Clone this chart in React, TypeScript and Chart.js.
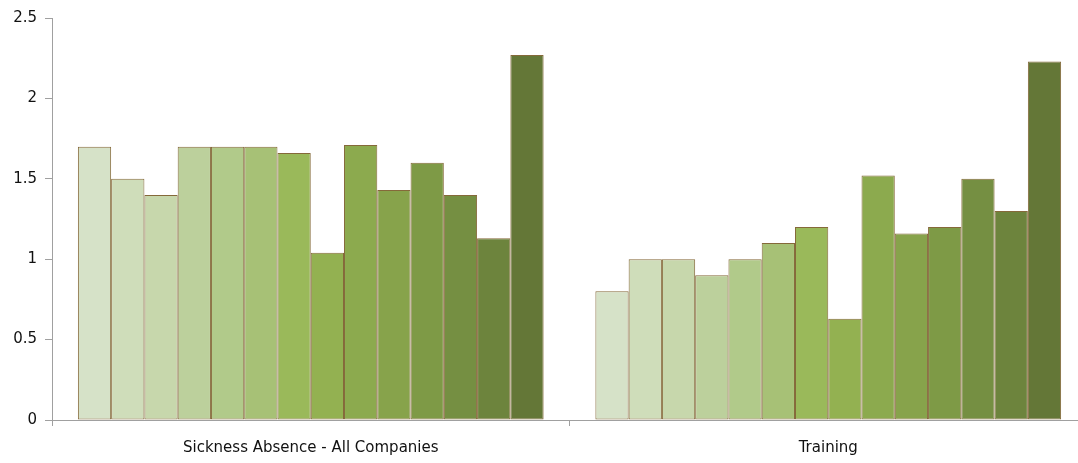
import React, { useEffect, useRef } from "react";
import { Chart, registerables } from "chart.js";

Chart.register(...registerables);

const categories = ["Sickness Absence - All Companies", "Training"];
const seriesValues: number[][] = [
  [1.7, 0.8],
  [1.5, 1.0],
  [1.4, 1.0],
  [1.7, 0.9],
  [1.7, 1.0],
  [1.7, 1.1],
  [1.66, 1.2],
  [1.04, 0.63],
  [1.71, 1.52],
  [1.43, 1.16],
  [1.6, 1.2],
  [1.4, 1.5],
  [1.13, 1.3],
  [2.27, 2.23],
];
const seriesColors = [
  "#d6e2c8", "#cfddba", "#c7d7ac", "#bcd09c", "#b1ca8a", "#a7c176", "#9ab95a",
  "#93b151", "#8caa4e", "#87a34b", "#7e9a46", "#758f42", "#6d843d", "#647737",
];
const yTicks = [0, 0.5, 1, 1.5, 2, 2.5];

export default function App() {
  const ref = useRef<HTMLCanvasElement | null>(null);
  useEffect(() => {
    document.body.style.overflow = "hidden";
    const ctx = ref.current!;
    const chart = new Chart(ctx, {
      type: "bar",
      data: {
        labels: categories,
        datasets: seriesValues.map((vals, i) => ({
          label: "S" + (i + 1),
          data: vals,
          backgroundColor: seriesColors[i],
          borderColor: "#85693a",
          borderWidth: 1,
          borderSkipped: false,
          inflateAmount: 0,
          categoryPercentage: 0.9,
          barPercentage: 1.0,
        })),
      },
      options: {
        animation: false,
        responsive: true,
        maintainAspectRatio: false,
        layout: { padding: { top: 18, right: 0, left: 0, bottom: 0 } },
        plugins: { legend: { display: false }, tooltip: { enabled: false } },
        scales: {
          x: {
            grid: {
              offset: true,
              drawOnChartArea: false,
              drawTicks: true,
              tickLength: 6,
              color: "#a0a0a0",
            },
            border: { color: "#a0a0a0", width: 1 },
            ticks: {
              color: "#111",
              font: { family: "DejaVu Sans", size: 15 },
              padding: 13,
            },
            afterFit: (s: any) => {
              s.height = 43;
            },
          },
          y: {
            min: 0,
            max: 2.5,
            afterBuildTicks: (s: any) => {
              s.ticks = yTicks.map((v) => ({ value: v }));
            },
            grid: {
              drawOnChartArea: false,
              drawTicks: true,
              tickLength: 7,
              color: "#a0a0a0",
            },
            border: { color: "#a0a0a0", width: 1 },
            ticks: {
              color: "#111",
              font: { family: "DejaVu Sans", size: 15 },
              padding: 8,
              callback: (v: any) => String(v),
            },
            afterFit: (s: any) => {
              s.width = 52;
            },
          },
        },
      },
    });
    return () => chart.destroy();
  }, []);
  return (
    <div style={{ position: "fixed", left: 0, top: 0, width: 1087, height: 463, background: "#fff" }}>
      <canvas ref={ref} />
    </div>
  );
}
